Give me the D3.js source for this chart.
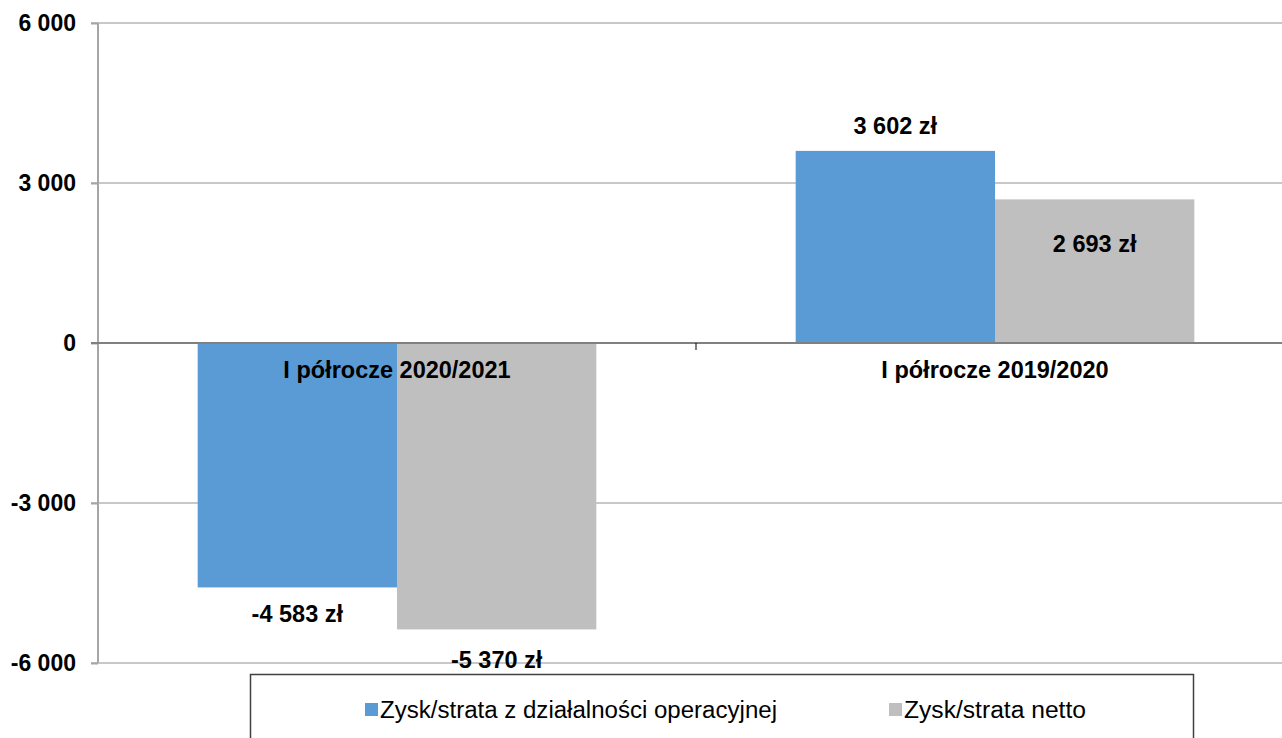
<!DOCTYPE html>
<html>
<head>
<meta charset="utf-8">
<script src="https://cdn.jsdelivr.net/npm/d3@7"></script>
<style>
    body { margin: 0; background: #fff; }
    svg { display: block; font-family: "Liberation Sans", Arial, sans-serif; }
</style>
</head>
<body>
<div class="chart"></div>
<script>
const categories = ['I półrocze 2020/2021', 'I półrocze 2019/2020'];
const seriesNames = ['Zysk/strata z działalności operacyjnej', 'Zysk/strata netto'];
const operating = [-4583, 3602];
const net = [-5370, 2693];
const yTicks = [-6000, -3000, 0, 3000, 6000];

function barChart() {
    const width = 1282,
        height = 738,
        margin = { top: 23, right: -12, bottom: 75, left: 98 },
        colors = ['#5B9BD5', '#BFBFBF'],
        // label offsets from bar end (px), per series and category
        labelOffset = [[35, -17], [39, 53]],
        fmt = v => d3.format(',')(v).replace(/,/g, ' ').replace('\u2212', '-');

    return function chart(selector) {
        const svg = d3.select(selector)
            .append('svg')
            .attr('width', width)
            .attr('height', height);

        const y = d3.scaleLinear()
            .domain([-6000, 6000])
            .range([height - margin.bottom, margin.top]);

        const x0 = d3.scaleBand()
            .domain(categories)
            .range([margin.left, width - margin.right]);
        const bw = x0.bandwidth();
        const x1 = d3.scaleBand()
            .domain(seriesNames)
            .range([bw / 6, bw * 5 / 6]);

        // grid lines
        svg.append('g')
            .selectAll('line')
            .data(yTicks.filter(d => d !== 0))
            .join('line')
            .attr('x1', margin.left - 7)
            .attr('x2', width)
            .attr('y1', d => y(d))
            .attr('y2', d => y(d))
            .attr('stroke', '#c8c8c8')
            .attr('stroke-width', 2);

        // y axis
        const yAxis = svg.append('g')
            .attr('transform', `translate(${margin.left},0)`)
            .call(d3.axisLeft(y).tickValues(yTicks).tickSize(7).tickFormat(fmt));
        yAxis.select('.domain')
            .attr('d', `M0,${y(6000)}V${y(-6000)}`)
            .attr('stroke', '#a6a6a6')
            .attr('stroke-width', 2);
        yAxis.selectAll('.tick line').attr('stroke', '#a6a6a6').attr('stroke-width', 2);
        yAxis.selectAll('.tick text')
            .attr('x', -22)
            .attr('font-size', 23)
            .attr('font-weight', 'bold')
            .attr('font-family', '"Liberation Sans", Arial, sans-serif')
            .attr('fill', '#000');

        const series = [operating, net];

        // bars
        const groups = svg.append('g')
            .selectAll('g')
            .data(series)
            .join('g')
            .attr('fill', (d, i) => colors[i]);

        groups.selectAll('rect')
            .data((vals, si) => vals.map((v, ci) => ({ v, si, ci })))
            .join('rect')
            .attr('x', d => x0(categories[d.ci]) + x1(seriesNames[d.si]))
            .attr('width', x1.bandwidth())
            .attr('y', d => y(Math.max(0, d.v)))
            .attr('height', d => Math.abs(y(d.v) - y(0)));

        // zero line + category tick
        svg.append('line')
            .attr('x1', margin.left - 7)
            .attr('x2', width)
            .attr('y1', y(0))
            .attr('y2', y(0))
            .attr('stroke', '#808080')
            .attr('stroke-width', 2);
        svg.append('line')
            .attr('x1', x0(categories[1]))
            .attr('x2', x0(categories[1]))
            .attr('y1', y(0))
            .attr('y2', y(0) + 7)
            .attr('stroke', '#000')
            .attr('stroke-width', 1);

        // category labels
        svg.append('g')
            .selectAll('text')
            .data(categories)
            .join('text')
            .attr('x', d => x0(d) + bw / 2)
            .attr('y', y(0) + 35)
            .attr('text-anchor', 'middle')
            .attr('font-size', 23.5)
            .attr('font-weight', 'bold')
            .text(d => d);

        // value labels
        groups.selectAll('text')
            .data((vals, si) => vals.map((v, ci) => ({ v, si, ci })))
            .join('text')
            .attr('x', d => x0(categories[d.ci]) + x1(seriesNames[d.si]) + x1.bandwidth() / 2)
            .attr('y', d => y(d.v) + labelOffset[d.si][d.ci])
            .attr('text-anchor', 'middle')
            .attr('font-size', 23.5)
            .attr('font-weight', 'bold')
            .attr('fill', '#000')
            .text(d => `${fmt(d.v)} zł`);

        // legend
        const legend = svg.append('g');
        legend.append('rect')
            .attr('x', 250.5)
            .attr('y', 674.5)
            .attr('width', 943)
            .attr('height', 80)
            .attr('fill', '#fff')
            .attr('stroke', '#404040')
            .attr('stroke-width', 1.5);
        const legendX = [365, 889];
        const items = legend.selectAll('g.item')
            .data(seriesNames)
            .join('g')
            .attr('class', 'item')
            .attr('transform', (d, i) => `translate(${legendX[i]},703)`);
        items.append('rect')
            .attr('width', 13)
            .attr('height', 13)
            .attr('fill', (d, i) => colors[i]);
        items.append('text')
            .attr('x', 15)
            .attr('y', 15)
            .attr('font-size', 23)
            .attr('textLength', (d, i) => i === 0 ? 397 : 182)
            .attr('lengthAdjust', 'spacingAndGlyphs')
            .text(d => d);
    };
}

const chart = barChart();
chart('.chart');
</script>
</body>
</html>
